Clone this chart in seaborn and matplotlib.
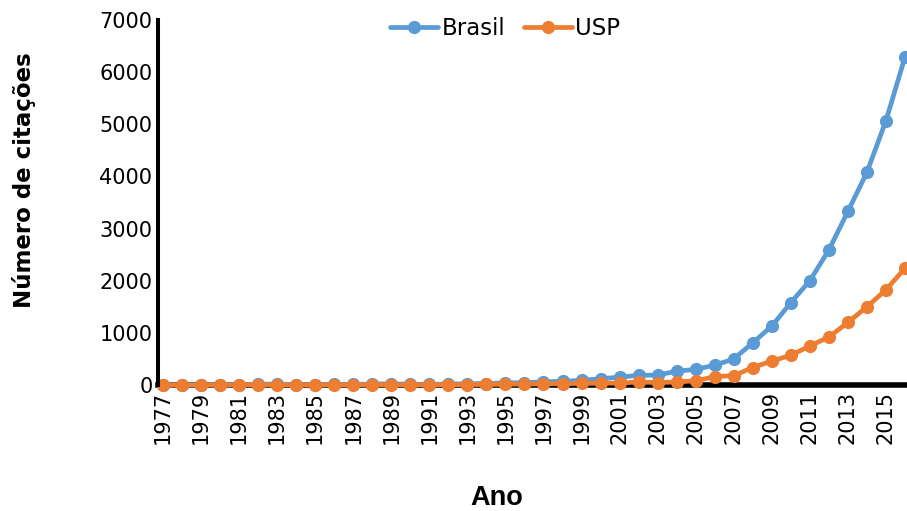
import matplotlib
matplotlib.use('Agg')
import matplotlib.pyplot as plt
import numpy as np
import pandas as pd
import seaborn as sns

years = list(range(1977, 2017))
brasil = [2, 3, 4, 5, 6, 15, 18, 8, 9, 12,
          10, 20, 22, 15, 12, 18, 25, 28, 40, 45,
          60, 70, 90, 120, 150, 185, 190, 265, 300, 380,
          500, 810, 1130, 1580, 2000, 2590, 3330, 4080, 5070, 6290]
usp = [0, 0, 1, 1, 2, 3, 2, 1, 2, 3,
       2, 5, 4, 3, 4, 6, 8, 10, 15, 18,
       22, 25, 30, 35, 35, 60, 45, 60, 80, 160,
       180, 335, 460, 570, 750, 920, 1200, 1500, 1825, 2240]
series_names = ['Brasil', 'USP']
colors = ['#5B9BD5', '#ED7D31']

df = pd.DataFrame({
    'Ano': years * 2,
    'Citações': brasil + usp,
    'Série': ['Brasil'] * len(years) + ['USP'] * len(years),
})

sns.set_style('white')
plt.rcParams['font.family'] = ['DejaVu Sans']
plt.rcParams['text.color'] = 'black'
plt.rcParams['axes.labelcolor'] = 'black'
plt.rcParams['xtick.color'] = 'black'
plt.rcParams['ytick.color'] = 'black'

fig = plt.figure(figsize=(9.07, 5.11), dpi=100)
ax = fig.add_axes([158 / 907, 1 - 385 / 511, (905 - 158) / 907, (385 - 20) / 511])

g = sns.lineplot(data=df, x='Ano', y='Citações', hue='Série',
                 hue_order=series_names, palette=colors,
                 marker='o', markersize=9.5, markeredgewidth=0,
                 linewidth=3.4, ax=ax, clip_on=False)

ax.set_xlim(1976.74, 2016.0)
ax.set_ylim(0, 7000)
ax.set_yticks(np.arange(0, 7001, 1000))
ax.set_xticks(list(range(1977, 2016, 2)))
ax.set_xticklabels([str(y) for y in range(1977, 2016, 2)], rotation=90,
                   fontsize=15)
ax.tick_params(axis='y', labelsize=15, length=0, pad=4)
ax.tick_params(axis='x', length=0, pad=4)

for side in ['top', 'right']:
    ax.spines[side].set_visible(False)
ax.spines['left'].set_linewidth(2.9)
ax.spines['bottom'].set_linewidth(4)
ax.spines['left'].set_color('black')
ax.spines['bottom'].set_color('black')
ax.spines['bottom'].set_zorder(1)

ax.set_ylabel('Número de citações', fontsize=16.5, fontweight='bold')
ax.yaxis.set_label_coords(-0.163, 0.562)
ax.set_xlabel('Ano', fontsize=19.5, fontweight='bold', family='Liberation Sans')
ax.xaxis.set_label_coords(0.454, -0.274)

handles, labels = ax.get_legend_handles_labels()
ax.get_legend().remove()
fig.legend(handles, labels, loc='center', bbox_to_anchor=(0.557, 0.945),
           ncol=2, frameon=False, fontsize=16.5, handlelength=2.1,
           handletextpad=0.15, columnspacing=0.8)

fig.savefig('out.png', dpi=100)
